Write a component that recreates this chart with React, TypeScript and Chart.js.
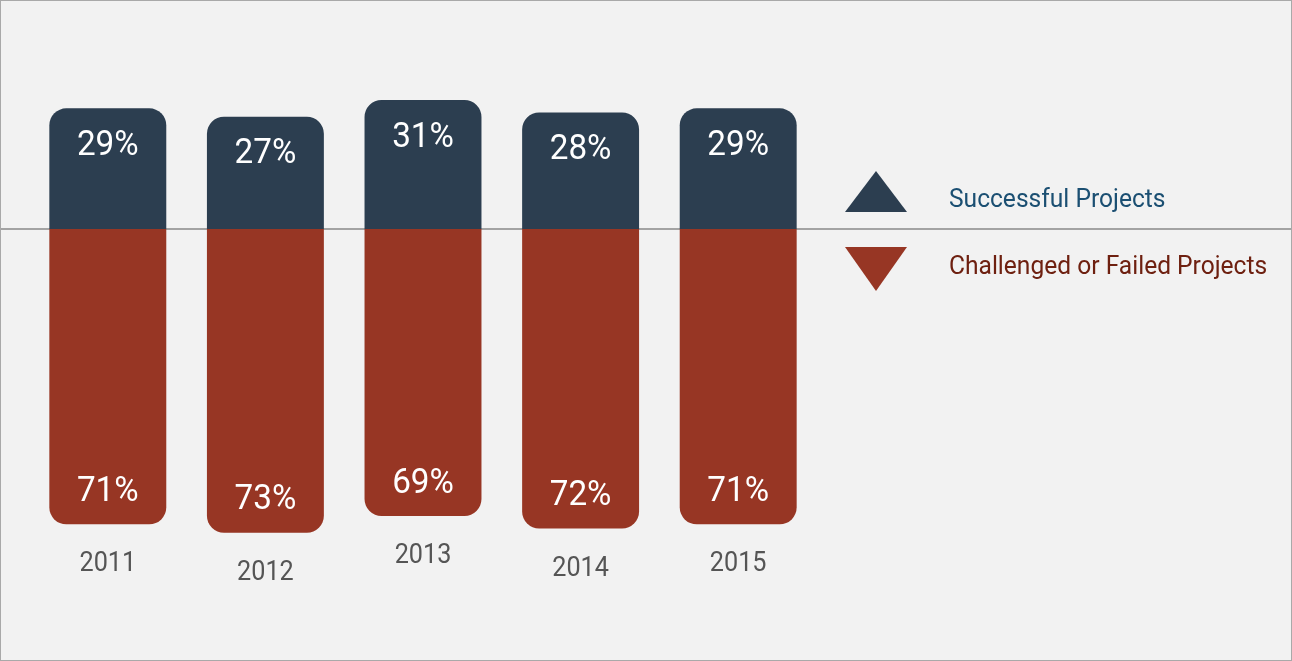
import React, { useEffect, useRef } from "react";
import { Chart, registerables } from "chart.js";

Chart.register(...registerables);

const years = ["2011", "2012", "2013", "2014", "2015"];
const successful = [29, 27, 31, 28, 29];
const challenged = [71, 73, 69, 72, 71];
const seriesNames = ["Successful Projects", "Challenged or Failed Projects"];

const NAVY = "#2c3e50";
const RED = "#973624";
const FONT = "Roboto, 'Noto Sans', sans-serif";

function drawCondensed(ctx: CanvasRenderingContext2D, text: string, x: number, y: number, align: CanvasTextAlign, sx = 0.9) {
  ctx.save();
  ctx.translate(x, y);
  ctx.scale(sx, 1);
  ctx.textAlign = align;
  ctx.textBaseline = "alphabetic";
  ctx.fillText(text, 0, 0);
  ctx.restore();
}

const overlay = {
  id: "overlay",
  beforeDatasetsDraw(chart: any) {
    const ctx = chart.ctx as CanvasRenderingContext2D;
    const y0 = chart.scales.y.getPixelForValue(0);
    ctx.save();
    ctx.strokeStyle = "#a3a3a3";
    ctx.lineWidth = 2;
    ctx.beginPath();
    ctx.moveTo(0, y0);
    ctx.lineTo(chart.width, y0);
    ctx.stroke();
    ctx.restore();
  },
  afterDatasetsDraw(chart: any) {
    const ctx = chart.ctx as CanvasRenderingContext2D;
    const m0 = chart.getDatasetMeta(0);
    const m1 = chart.getDatasetMeta(1);
    ctx.save();
    ctx.fillStyle = "#ffffff";
    ctx.font = `35px ${FONT}`;
    m0.data.forEach((el: any, i: number) => {
      drawCondensed(ctx, successful[i] + "%", el.x, el.y + 34 + 12.5, "center", 0.95);
    });
    m1.data.forEach((el: any, i: number) => {
      drawCondensed(ctx, challenged[i] + "%", el.x, el.y - 36 + 12.5, "center", 0.95);
    });
    ctx.fillStyle = "#555555";
    ctx.font = `28px ${FONT}`;
    m1.data.forEach((el: any, i: number) => {
      drawCondensed(ctx, years[i], el.x, el.y + 37 + 10, "center", 0.9);
    });
    ctx.restore();
  },
  afterDraw(chart: any) {
    const ctx = chart.ctx as CanvasRenderingContext2D;
    ctx.save();
    ctx.fillStyle = NAVY;
    ctx.beginPath();
    ctx.moveTo(844, 211);
    ctx.lineTo(906, 211);
    ctx.lineTo(875, 170);
    ctx.closePath();
    ctx.fill();
    ctx.fillStyle = RED;
    ctx.beginPath();
    ctx.moveTo(844, 246);
    ctx.lineTo(906, 246);
    ctx.lineTo(875, 290);
    ctx.closePath();
    ctx.fill();
    ctx.font = `26px ${FONT}`;
    ctx.fillStyle = "#1b4f72";
    drawCondensed(ctx, seriesNames[0], 948, 196 + 9.5, "left", 0.945);
    ctx.fillStyle = "#6e2010";
    drawCondensed(ctx, seriesNames[1], 948, 263 + 9.5, "left", 0.945);
    ctx.restore();
  },
};

export default function App() {
  const ref = useRef<HTMLCanvasElement | null>(null);
  useEffect(() => {
    if (!ref.current) return;
    const k = 4.16;
    const baseline = 228;
    const h = 659;
    const chart = new Chart(ref.current, {
      type: "bar",
      data: {
        labels: years,
        datasets: [
          {
            label: seriesNames[0],
            data: successful,
            backgroundColor: NAVY,
            borderSkipped: false,
            borderWidth: 0,
            borderRadius: { topLeft: 17, topRight: 17, bottomLeft: 0, bottomRight: 0 },
          },
          {
            label: seriesNames[1],
            data: challenged.map((v) => -v),
            backgroundColor: RED,
            borderSkipped: false,
            borderWidth: 0,
            borderRadius: { topLeft: 0, topRight: 0, bottomLeft: 17, bottomRight: 17 },
          },
        ],
      },
      options: {
        responsive: false,
        animation: false,
        layout: { padding: { left: 28, right: 474, top: 0, bottom: 0 } },
        datasets: { bar: { categoryPercentage: 1, barPercentage: 0.742 } },
        plugins: { legend: { display: false }, tooltip: { enabled: false } },
        scales: {
          x: { display: false, stacked: true, offset: true },
          y: { display: false, stacked: true, min: -(h - baseline) / k, max: baseline / k },
        },
      },
      plugins: [overlay],
    });
    return () => chart.destroy();
  }, []);
  return (
    <div
      style={{
        position: "fixed",
        left: 0,
        top: 0,
        width: 1292,
        height: 661,
        boxSizing: "border-box",
        border: "1px solid #a9a9a9",
        background: "#f2f2f2",
      }}
    >
      <canvas ref={ref} width={1290} height={659} style={{ display: "block" }} />
    </div>
  );
}
